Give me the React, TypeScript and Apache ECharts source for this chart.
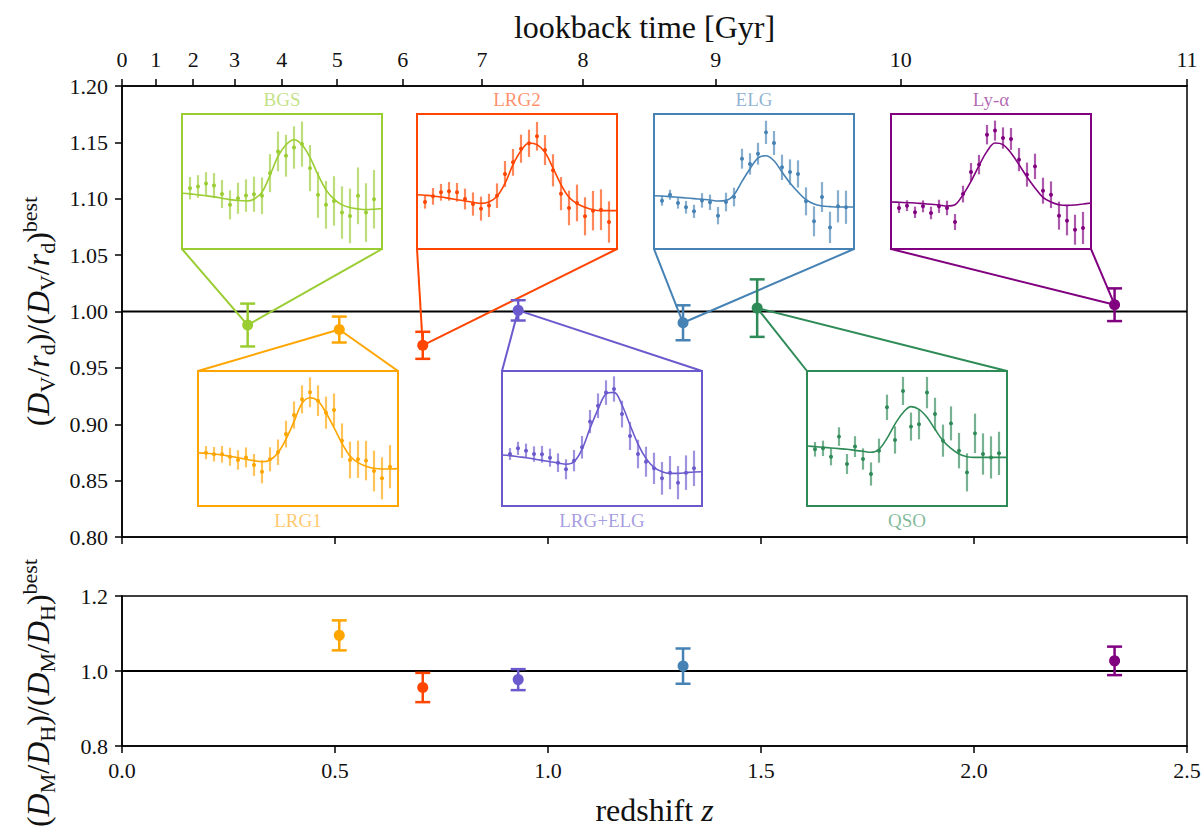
import React, { useEffect, useRef } from 'react';
import * as echarts from 'echarts';

// ---------- main measurements ----------
const tracers = ['BGS', 'LRG1', 'LRG2', 'LRG+ELG', 'ELG', 'QSO', 'Ly-α'];
const tracerColors = ['#9acd32', '#ffa500', '#ff4500', '#6a5acd', '#4682b4', '#2e8b57', '#800080'];
const zEff = [0.295, 0.51, 0.706, 0.93, 1.317, 1.491, 2.33];
const dvRatio = [0.988, 0.984, 0.97, 1.001, 0.99, 1.003, 1.006];
const dvErr = [0.019, 0.0115, 0.012, 0.009, 0.0155, 0.0255, 0.0145];
const dmdhRatio = [null, 1.095, 0.956, 0.977, 1.013, null, 1.027];
const dmdhErr = [null, 0.04, 0.039, 0.028, 0.047, null, 0.038];

// ---------- top axis: lookback time ----------
const lookbackGyr = [0, 1, 2, 3, 4, 5, 6, 7, 8, 9, 10, 11];
const lookbackZ = [0, 0.079, 0.167, 0.264, 0.375, 0.505, 0.659, 0.845, 1.082, 1.394, 1.828, 2.5];

// ---------- insets: correlation-function wiggles (arbitrary units, 0-100 box) ----------
const sepPoints = [54, 58, 62, 66, 70, 74, 78, 82, 86, 90, 94, 98, 102, 106, 110, 114, 118, 122, 126, 130, 134, 138, 142, 146];
const sepModel = [50, 54, 58, 62, 66, 70, 74, 78, 82, 86, 90, 94, 98, 102, 106, 110, 114, 118, 122, 126, 130, 134, 138, 142, 146, 150];

const xiBGS = [45.0, 46.3, 48.5, 47.0, 40.8, 32.7, 37.6, 39.6, 40.6, 39.4, 56.2, 72.3, 69.1, 75.2, 77.7, 59.9, 40.1, 32.7, 35.6, 27.0, 24.5, 39.4, 27.0, 36.9];
const errBGS = [8.3, 8.4, 8.4, 9.3, 10.4, 10.8, 11.5, 12.0, 13.0, 13.6, 14.1, 14.7, 15.5, 15.7, 16.7, 17.1, 17.0, 17.7, 18.3, 19.4, 20.2, 21.0, 21.7, 21.7];
const modelBGS = [41.3, 40.8, 40.1, 39.4, 38.6, 37.6, 36.6, 35.9, 35.6, 36.9, 42.1, 54.5, 68.6, 77.2, 80.9, 77.2, 67.8, 55.0, 43.8, 36.9, 32.7, 30.7, 29.7, 29.2, 29.5, 30.0];

const xiLRG1 = [39.5, 38.3, 38.3, 36.5, 34.1, 36.0, 30.4, 25.4, 34.6, 39.8, 53.3, 67.4, 79.0, 84.2, 78.0, 69.1, 71.1, 48.4, 34.1, 34.6, 33.6, 25.9, 20.5, 29.1];
const errLRG1 = [4.9, 5.4, 6.2, 6.7, 7.2, 7.4, 8.1, 8.6, 8.9, 9.4, 9.9, 10.1, 10.4, 11.1, 11.4, 11.9, 12.3, 12.8, 13.6, 13.8, 14.6, 15.1, 15.6, 16.0];
const modelLRG1 = [39.5, 39.0, 38.5, 37.8, 36.8, 35.8, 34.6, 33.6, 32.8, 34.1, 39.5, 49.6, 62.5, 76.0, 80.2, 77.8, 69.1, 58.0, 46.4, 37.0, 32.1, 29.4, 27.9, 27.4, 27.4, 27.7];

const xiLRG2 = [34.8, 39.0, 42.0, 42.7, 42.0, 37.0, 33.3, 29.9, 32.3, 39.5, 55.6, 64.2, 74.3, 78.3, 83.5, 73.3, 58.3, 41.0, 30.4, 34.1, 24.2, 28.4, 29.1, 20.0];
const errLRG2 = [4.9, 6.2, 6.2, 6.9, 6.9, 7.7, 8.6, 8.9, 8.6, 9.1, 9.6, 9.9, 10.4, 10.1, 10.6, 11.1, 11.9, 12.3, 12.8, 13.6, 14.1, 14.6, 15.1, 15.3];
const modelLRG2 = [40.2, 39.8, 39.3, 38.5, 37.5, 36.5, 35.6, 34.6, 33.8, 34.8, 39.0, 48.6, 62.5, 72.8, 78.5, 77.3, 71.6, 60.0, 47.7, 38.3, 33.6, 30.9, 29.1, 28.4, 28.4, 28.4];

const xiLRGELG = [38.5, 42.7, 41.0, 38.5, 38.3, 35.8, 32.1, 27.2, 33.6, 43.5, 62.5, 74.3, 84.0, 86.7, 68.1, 51.9, 38.5, 32.8, 27.9, 20.5, 24.7, 17.3, 24.7, 27.9];
const errLRGELG = [4.4, 4.9, 5.2, 5.7, 6.2, 6.7, 6.9, 7.4, 7.9, 8.4, 8.6, 9.1, 9.1, 9.4, 9.9, 10.4, 10.6, 11.1, 11.6, 12.1, 12.3, 12.3, 12.8, 13.1];
const modelLRGELG = [37.8, 37.3, 36.5, 35.8, 34.8, 33.8, 32.8, 31.9, 30.9, 32.8, 42.0, 57.5, 71.6, 83.0, 84.2, 74.8, 60.0, 45.9, 35.3, 28.6, 25.4, 24.2, 24.2, 24.7, 25.2, 25.4];

const xiELG = [35.8, 40.2, 34.1, 30.9, 27.9, 36.0, 34.6, 24.7, 34.8, 38.5, 66.9, 63.0, 70.6, 86.4, 78.5, 60.5, 57.0, 55.6, 35.3, 20.5, 38.5, 16.0, 31.6, 30.9];
const errELG = [3.7, 3.7, 4.2, 4.7, 4.9, 5.4, 5.7, 6.4, 6.9, 6.9, 7.4, 7.9, 8.1, 8.6, 8.9, 9.4, 9.4, 10.1, 10.4, 11.1, 11.1, 11.6, 11.9, 12.3];
const modelELG = [39.5, 39.3, 38.8, 38.3, 37.8, 37.3, 36.8, 36.3, 35.6, 36.0, 40.2, 50.1, 59.5, 67.4, 69.1, 65.4, 57.0, 48.9, 42.2, 36.5, 33.3, 31.9, 31.4, 31.1, 31.1, 31.1];

const xiQSO = [42.0, 42.7, 36.5, 51.4, 31.1, 44.0, 34.8, 23.7, 41.0, 73.1, 48.9, 85.2, 58.8, 60.5, 84.0, 68.1, 48.4, 61.2, 41.0, 24.9, 53.8, 38.5, 36.0, 39.0];
const errQSO = [5.4, 5.7, 6.4, 6.9, 7.4, 7.7, 7.9, 8.6, 8.9, 9.4, 10.1, 10.4, 10.4, 11.1, 11.6, 12.1, 11.9, 12.6, 13.1, 14.1, 14.6, 15.3, 15.6, 16.0];
const modelQSO = [44.4, 44.0, 43.5, 43.0, 42.5, 42.0, 41.2, 40.5, 39.8, 42.0, 50.1, 60.7, 69.1, 73.6, 71.6, 65.7, 56.8, 48.4, 42.7, 38.5, 36.5, 36.0, 36.0, 36.0, 36.0, 36.0];

const xiLya = [30.4, 32.1, 27.2, 31.6, 26.7, 31.6, 30.4, 20.0, 40.7, 57.0, 62.5, 84.7, 87.7, 82.2, 81.5, 66.2, 55.1, 61.2, 43.2, 40.2, 24.7, 21.0, 14.3, 15.6];
const errLya = [3.7, 4.0, 4.2, 4.4, 4.7, 4.9, 5.4, 5.9, 6.2, 6.7, 7.2, 7.2, 7.4, 7.9, 8.1, 8.6, 8.9, 9.4, 9.6, 9.9, 10.4, 10.9, 11.1, 11.9];
const modelLya = [34.8, 34.6, 34.3, 34.1, 33.6, 33.1, 32.6, 31.9, 32.8, 40.2, 50.1, 61.7, 72.3, 78.5, 77.3, 71.1, 62.5, 53.3, 45.2, 38.3, 34.8, 32.8, 32.3, 32.6, 33.3, 34.1];

const insetData = [
  [xiBGS, errBGS, modelBGS],
  [xiLRG1, errLRG1, modelLRG1],
  [xiLRG2, errLRG2, modelLRG2],
  [xiLRGELG, errLRGELG, modelLRGELG],
  [xiELG, errELG, modelELG],
  [xiQSO, errQSO, modelQSO],
  [xiLya, errLya, modelLya],
];

// ---------- layout (pixels) ----------
const INSET_W = 200;
const INSET_H = 135;
const insetLayout = [
  { left: 182, top: 114, place: 'top' },
  { left: 198, top: 371, place: 'bottom' },
  { left: 417, top: 114, place: 'top' },
  { left: 502, top: 371, place: 'bottom' },
  { left: 654, top: 114, place: 'top' },
  { left: 807, top: 371, place: 'bottom' },
  { left: 891, top: 114, place: 'top' },
];

const FONT = 'Liberation Serif, DejaVu Serif, serif';

const withAlpha = (hex: string, a: number) => {
  const n = parseInt(hex.slice(1), 16);
  return `rgba(${(n >> 16) & 255},${(n >> 8) & 255},${n & 255},${a})`;
};

const mainErrRender = (params: any, api: any) => {
  const i = api.value(3);
  const color = tracerColors[i];
  const x = api.value(0);
  const y = api.value(1);
  const e = api.value(2);
  const c = api.coord([x, y]);
  const t = api.coord([x, y + e]);
  const b = api.coord([x, y - e]);
  const cap = 7.5;
  const ls = { stroke: color, lineWidth: 2.5 };
  return {
    type: 'group',
    children: [
      { type: 'line', shape: { x1: t[0], y1: t[1], x2: b[0], y2: b[1] }, style: ls },
      { type: 'line', shape: { x1: t[0] - cap, y1: t[1], x2: t[0] + cap, y2: t[1] }, style: ls },
      { type: 'line', shape: { x1: b[0] - cap, y1: b[1], x2: b[0] + cap, y2: b[1] }, style: ls },
      { type: 'circle', shape: { cx: c[0], cy: c[1], r: 5.5 }, style: { fill: color } },
    ],
  };
};

const insetRender = (color: string) => (params: any, api: any) => {
  const s = api.value(0);
  const v = api.value(1);
  const e = api.value(2);
  const c = api.coord([s, v]);
  const t = api.coord([s, v + e]);
  const b = api.coord([s, v - e]);
  return {
    type: 'group',
    children: [
      { type: 'line', shape: { x1: t[0], y1: t[1], x2: b[0], y2: b[1] }, style: { stroke: withAlpha(color, 0.65), lineWidth: 2.2 } },
      { type: 'circle', shape: { cx: c[0], cy: c[1], r: 2 }, style: { fill: color } },
    ],
  };
};

const richBase = {
  n: { fontFamily: FONT, fontSize: 32, lineHeight: 40, color: '#111' },
  i: { fontFamily: FONT, fontSize: 32, fontStyle: 'italic', lineHeight: 40, color: '#111' },
  s: { fontFamily: FONT, fontSize: 22, verticalAlign: 'bottom', lineHeight: 22, color: '#111' },
  p: { fontFamily: FONT, fontSize: 22, verticalAlign: 'top', lineHeight: 22, color: '#111' },
};

const tickStyle = { color: '#111', fontFamily: FONT, fontSize: 22 };

function buildOption() {
  const grids: any[] = [
    { left: 122, top: 86, width: 1065, height: 451, show: true, borderColor: '#000', borderWidth: 1.5, backgroundColor: 'transparent' },
    { left: 122, top: 596, width: 1065, height: 150, show: true, borderColor: '#000', borderWidth: 1.5, backgroundColor: 'transparent' },
  ];
  const xAxes: any[] = [
    {
      gridIndex: 0, type: 'value', min: 0, max: 2.5, interval: 0.5, position: 'bottom',
      axisLine: { lineStyle: { color: '#000', width: 1.5 } },
      axisTick: { length: 7, lineStyle: { color: '#000', width: 1.5 } },
      axisLabel: { show: false }, splitLine: { show: false },
    },
    {
      gridIndex: 0, type: 'value', min: 0, max: 2.5, position: 'top',
      axisLine: { lineStyle: { color: '#000', width: 1.5 } },
      axisTick: { length: 7, customValues: lookbackZ, lineStyle: { color: '#000', width: 1.5 } },
      axisLabel: {
        ...tickStyle, margin: 16, customValues: lookbackZ,
        formatter: (v: number) => {
          const k = lookbackZ.findIndex((z) => Math.abs(z - v) < 1e-6);
          return k >= 0 ? String(lookbackGyr[k]) : '';
        },
      },
      splitLine: { show: false },
      name: 'lookback time [Gyr]', nameLocation: 'middle', nameGap: 38,
      nameTextStyle: { fontFamily: FONT, fontSize: 32, color: '#111', padding: [0, 20, 0, 0] },
    },
    {
      gridIndex: 1, type: 'value', min: 0, max: 2.5, interval: 0.5, position: 'bottom',
      axisLine: { lineStyle: { color: '#000', width: 1.5 } },
      axisTick: { length: 7, lineStyle: { color: '#000', width: 1.5 } },
      axisLabel: { ...tickStyle, margin: 13, formatter: (v: number) => v.toFixed(1) },
      splitLine: { show: false },
      name: '{n|redshift }{i|z}', nameLocation: 'middle', nameGap: 44,
      nameTextStyle: { rich: richBase },
    },
  ];
  const yAxes: any[] = [
    {
      gridIndex: 0, type: 'value', min: 0.8, max: 1.2, interval: 0.05,
      axisLine: { show: true, lineStyle: { color: '#000', width: 1.5 } },
      axisTick: { show: true, length: 7, lineStyle: { color: '#000', width: 1.5 } },
      axisLabel: { ...tickStyle, margin: 14, formatter: (v: number) => v.toFixed(2) },
      splitLine: { show: false },
      name: '{n|(}{i|D}{s|V}{n|/}{i|r}{s|d}{n|)/(}{i|D}{s|V}{n|/}{i|r}{s|d}{n|)}{p|best}',
      nameLocation: 'middle', nameGap: 64, nameRotate: 90,
      nameTextStyle: { rich: richBase },
    },
    {
      gridIndex: 1, type: 'value', min: 0.8, max: 1.2, interval: 0.2,
      axisLine: { show: true, lineStyle: { color: '#000', width: 1.5 } },
      axisTick: { show: true, length: 7, lineStyle: { color: '#000', width: 1.5 } },
      axisLabel: { ...tickStyle, margin: 14, formatter: (v: number) => v.toFixed(1) },
      splitLine: { show: false },
      name: '{n|(}{i|D}{s|M}{n|/}{i|D}{s|H}{n|)/(}{i|D}{s|M}{n|/}{i|D}{s|H}{n|)}{p|best}',
      nameLocation: 'middle', nameGap: 64, nameRotate: 90,
      nameTextStyle: { rich: richBase, padding: [0, 44, 0, 0] },
    },
  ];

  const series: any[] = [
    {
      type: 'line', xAxisIndex: 0, yAxisIndex: 0, data: [[0, 1], [2.5, 1]], showSymbol: false, symbol: 'none',
      lineStyle: { color: '#000', width: 2 }, z: 3, silent: true,
    },
    {
      type: 'line', xAxisIndex: 2, yAxisIndex: 1, data: [[0, 1], [2.5, 1]], showSymbol: false, symbol: 'none',
      lineStyle: { color: '#000', width: 2 }, z: 3, silent: true,
    },
    {
      type: 'custom', xAxisIndex: 0, yAxisIndex: 0, renderItem: mainErrRender, encode: { x: 0, y: 1 }, z: 6,
      data: tracers.map((_, i) => [zEff[i], dvRatio[i], dvErr[i], i]),
    },
    {
      type: 'custom', xAxisIndex: 2, yAxisIndex: 1, renderItem: mainErrRender, encode: { x: 0, y: 1 }, z: 6,
      data: tracers
        .map((_, i) => [zEff[i], dmdhRatio[i], dmdhErr[i], i])
        .filter((d) => d[1] !== null),
    },
  ];

  insetLayout.forEach((l, i) => {
    const color = tracerColors[i];
    const [xi, err, model] = insetData[i];
    grids.push({
      left: l.left, top: l.top, width: INSET_W, height: INSET_H, show: true,
      borderColor: color, borderWidth: 2, backgroundColor: '#fff', z: 4,
    });
    const gi = grids.length - 1;
    xAxes.push({
      gridIndex: gi, type: 'value', min: 50, max: 150, position: l.place,
      axisLine: { show: false }, axisTick: { show: false }, axisLabel: { show: false }, splitLine: { show: false },
      name: tracers[i], nameLocation: 'middle', nameGap: 5,
      nameTextStyle: { fontFamily: FONT, fontSize: 19, color: withAlpha(color, 0.6) },
    });
    yAxes.push({ gridIndex: gi, type: 'value', min: 0, max: 100, show: false });
    const xIdx = xAxes.length - 1;
    const yIdx = yAxes.length - 1;
    series.push({
      type: 'custom', xAxisIndex: xIdx, yAxisIndex: yIdx, renderItem: insetRender(color), clip: true,
      encode: { x: 0, y: 1 }, z: 7,
      data: sepPoints.map((s, k) => [s, xi[k], err[k]]),
    });
    series.push({
      type: 'line', xAxisIndex: xIdx, yAxisIndex: yIdx, smooth: 0.35, showSymbol: false, symbol: 'none',
      lineStyle: { color, width: 1.6 }, z: 8, silent: true,
      data: sepModel.map((s, k) => [s, model[k]]),
    });
  });

  return {
    animation: false,
    backgroundColor: '#fff',
    grid: grids,
    xAxis: xAxes,
    yAxis: yAxes,
    series,
  };
}

export default function App() {
  const ref = useRef<HTMLDivElement>(null);
  useEffect(() => {
    document.body.style.margin = '0';
    const chart = echarts.init(ref.current!, null, { renderer: 'svg' });
    chart.setOption(buildOption());
    const els: any[] = [];
    insetLayout.forEach((l, i) => {
      const p = chart.convertToPixel({ xAxisIndex: 0, yAxisIndex: 0 } as any, [zEff[i], dvRatio[i]]) as number[];
      const yEdge = l.place === 'top' ? l.top + INSET_H : l.top;
      [l.left, l.left + INSET_W].forEach((xc) => {
        els.push({
          type: 'line', silent: true, z: 5,
          shape: { x1: xc, y1: yEdge, x2: p[0], y2: p[1] },
          style: { stroke: tracerColors[i], lineWidth: 2 },
        });
      });
    });
    chart.setOption({ graphic: els });
    return () => chart.dispose();
  }, []);
  return <div ref={ref} style={{ width: 1204, height: 839 }} />;
}
